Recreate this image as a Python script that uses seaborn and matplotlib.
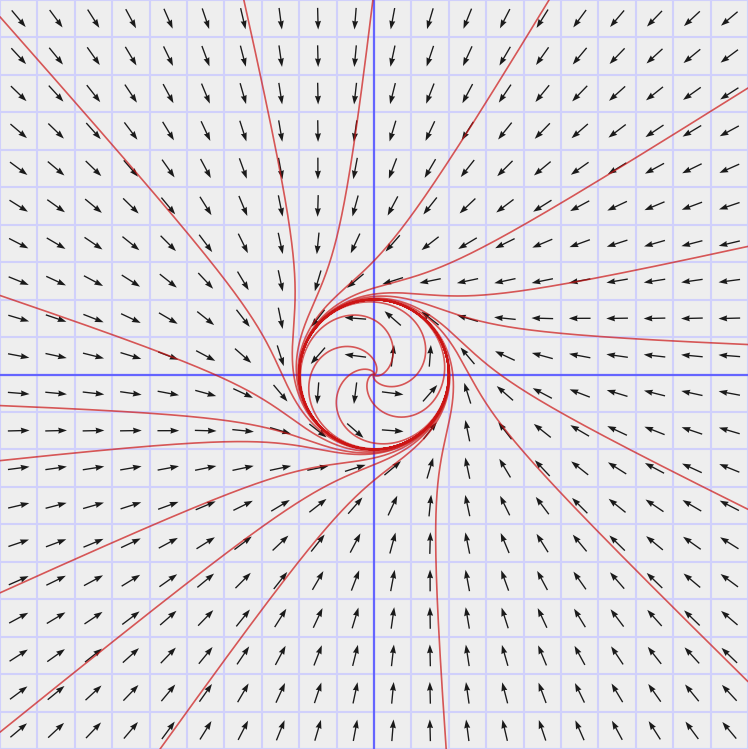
"""
Limit cycle phase portrait
==========================
"""

import numpy as np
import pandas as pd
import seaborn as sns
import matplotlib.pyplot as plt

# -----------------------------
# Data
# -----------------------------
# where the outer trajectories enter the frame
outer_x = [-10, -3.48, -0.03, 4.68, 10, 10, 10, 10, 10, 1.93, -5.72, -10, -10, -10, -10, -10]
outer_y = [9.55, 10, 10, 10, 7.65, 3.42, 0.8, -3.6, -8.2, -10, -10, -9.55, -5.83, -2.3, -0.83, 2.11]

# spirals leaving the origin (start angle in degrees)
inner_angles = [0, 70, 150, 220, 290]
inner_r0 = 0.02

# field: dr/dt = k r (R - r), dtheta/dt = 1
cycle_r = 2.0
radial_k = 1.0

lim = 10
arrow_len = 0.58


def field(x, y):
    r = np.hypot(x, y)
    dx = radial_k * x * (cycle_r - r) - y
    dy = radial_k * y * (cycle_r - r) + x
    return dx, dy


def integrate(x0, y0, t_end=14.0, dt=0.002):
    x = np.array(x0, dtype=float)
    y = np.array(y0, dtype=float)
    xs, ys = [x.copy()], [y.copy()]
    for _ in range(int(t_end / dt)):
        k1x, k1y = field(x, y)
        k2x, k2y = field(x + dt / 2 * k1x, y + dt / 2 * k1y)
        k3x, k3y = field(x + dt / 2 * k2x, y + dt / 2 * k2y)
        k4x, k4y = field(x + dt * k3x, y + dt * k3y)
        x = x + dt / 6 * (k1x + 2 * k2x + 2 * k3x + k4x)
        y = y + dt / 6 * (k1y + 2 * k2y + 2 * k3y + k4y)
        xs.append(x.copy())
        ys.append(y.copy())
    return np.array(xs), np.array(ys)


# start points
ang = np.radians(inner_angles)
x0 = list(outer_x) + list(inner_r0 * np.cos(ang))
y0 = list(outer_y) + list(inner_r0 * np.sin(ang))

xs, ys = integrate(x0, y0)
frames = []
for i in range(len(x0)):
    frames.append(pd.DataFrame({'x': xs[:, i], 'y': ys[:, i], 'traj': i}))
traj = pd.concat(frames, ignore_index=True)

# arrow grid
g = np.arange(-lim + 0.5, lim, 1.0)
X, Y = np.meshgrid(g, g)
U, V = field(X, Y)
n = np.hypot(U, V)
U = U / n * arrow_len
V = V / n * arrow_len

# -----------------------------
# Plot
# -----------------------------
sns.set_style("whitegrid", {"axes.facecolor": "#eeeeee", "grid.color": "#d0d0fb",
                            "axes.edgecolor": "#eeeeee"})

fig = plt.figure(figsize=(7.48, 7.49), dpi=100)
ax = fig.add_axes([0, 0, 1, 1])

ax.quiver(X, Y, U, V, angles='xy', scale_units='xy', scale=1, pivot='mid',
          width=0.0018, headwidth=4.5, headlength=6.5, headaxislength=6,
          color='#1a1a1a', zorder=3)

sns.lineplot(data=traj, x='x', y='y', units='traj', estimator=None, sort=False,
             color='#cc1515', lw=1.2, alpha=0.7, legend=False, ax=ax, zorder=4)

ax.axhline(0, color='#6464ff', lw=1.6, zorder=2)
ax.axvline(0, color='#6464ff', lw=1.6, zorder=2)

ax.set_xlim(-lim, lim)
ax.set_ylim(-lim, lim)
ax.set_xticks(np.arange(-lim, lim + 1, 1))
ax.set_yticks(np.arange(-lim, lim + 1, 1))
ax.grid(True, lw=1.5)
ax.tick_params(length=0, labelbottom=False, labelleft=False)
ax.set_xlabel('')
ax.set_ylabel('')
for s in ax.spines.values():
    s.set_visible(False)

fig.savefig('out.png', dpi=100)
